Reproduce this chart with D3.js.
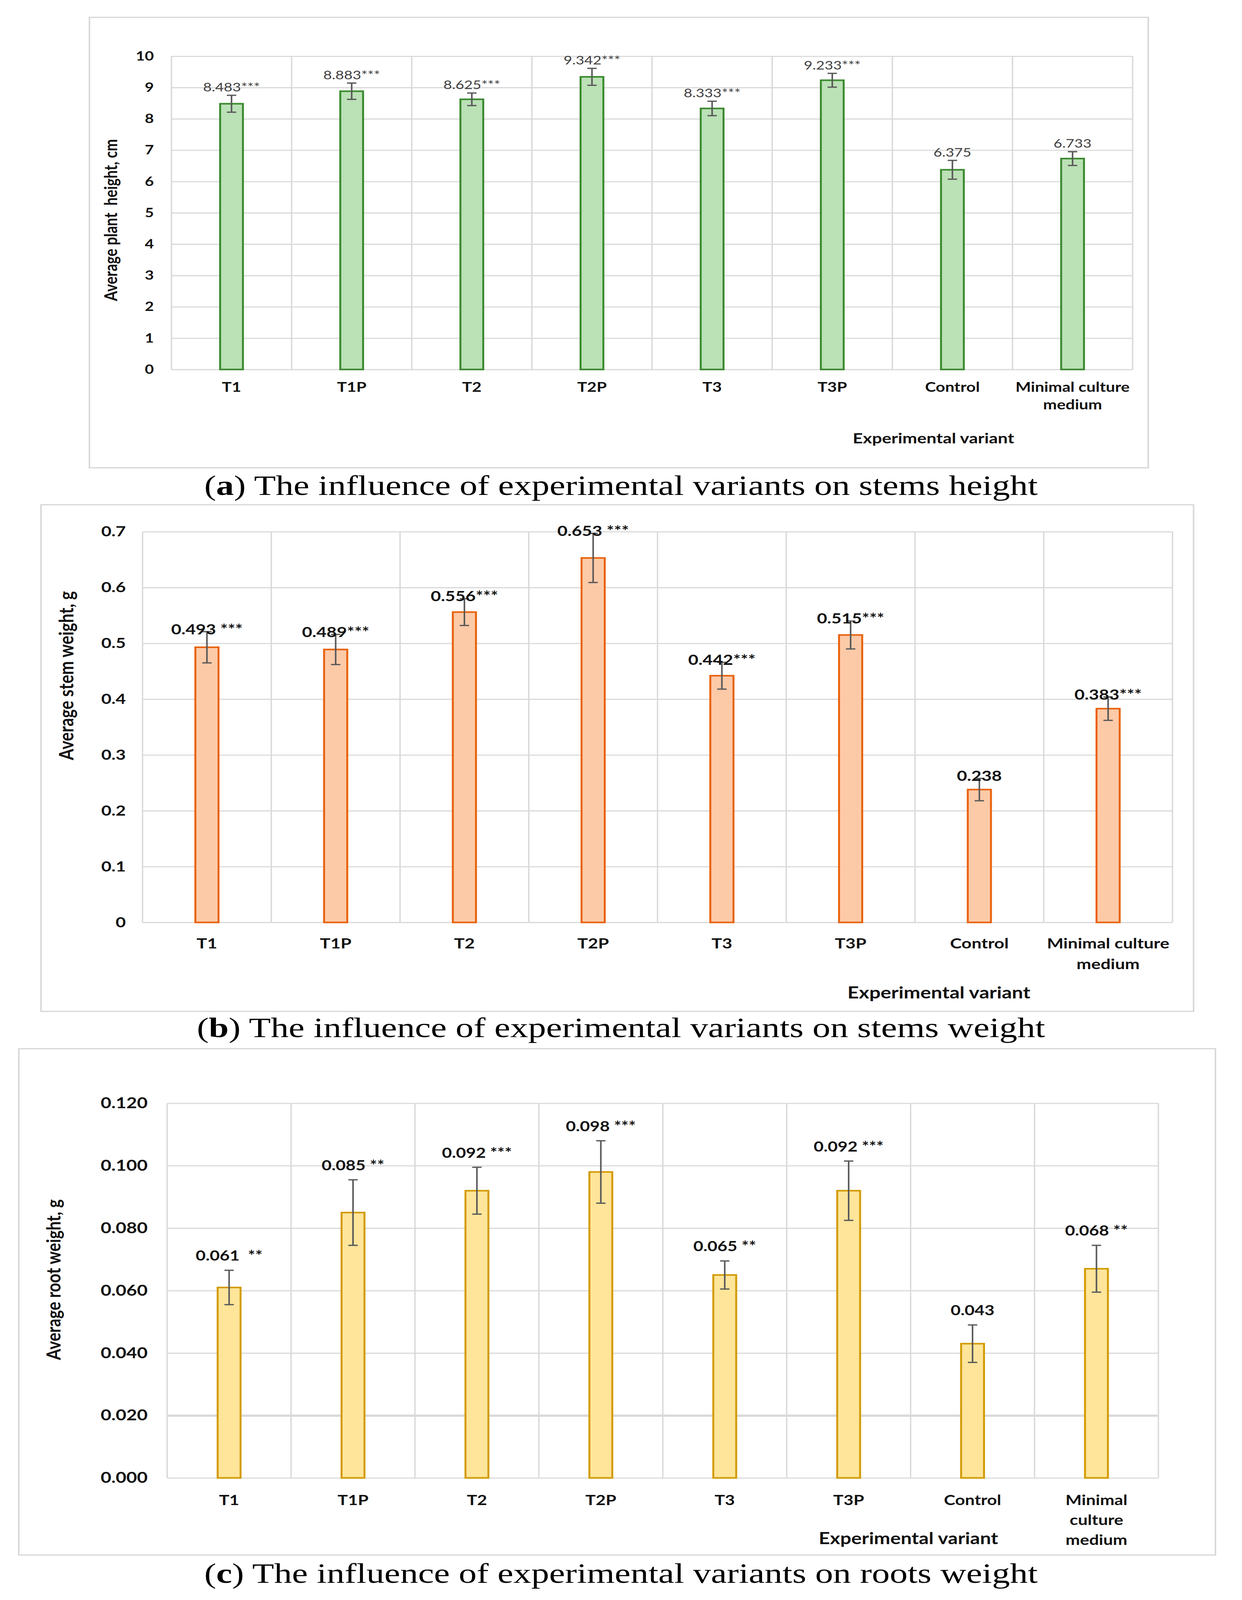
<!DOCTYPE html>
<head>
  <meta charset="utf-8">
  <script src="https://d3js.org/d3.v7.min.js"></script>
  <style>
    body { margin:0; background:#fff; overflow:hidden; }
    svg { display:block; width:100vw; height:100vh; }
    text { font-family: Lato, "Open Sans", sans-serif; }
  </style>
</head>
<body>
<script>
// categories shared by the three panels
var categories = ["T1", "T1P", "T2", "T2P", "T3", "T3P", "Control", "Minimal culture medium"];
var catLinesAB = [["T1"], ["T1P"], ["T2"], ["T2P"], ["T3"], ["T3P"], ["Control"], ["Minimal culture", "medium"]];
var catLinesC = [["T1"], ["T1P"], ["T2"], ["T2P"], ["T3"], ["T3P"], ["Control"], ["Minimal", "culture", "medium"]];

// (a) plant height, cm
var heightVals = [8.483, 8.883, 8.625, 9.342, 8.333, 9.233, 6.375, 6.733];
var heightErr = [0.27, 0.26, 0.2, 0.27, 0.23, 0.22, 0.3, 0.22];
var heightLabels = ["8.483***", "8.883***", "8.625***", "9.342***", "8.333***", "9.233***", "6.375", "6.733"];
var heightTicks = [0, 1, 2, 3, 4, 5, 6, 7, 8, 9, 10];

// (b) stem weight, g
var stemVals = [0.493, 0.489, 0.556, 0.653, 0.442, 0.515, 0.238, 0.383];
var stemErr = [0.028, 0.027, 0.024, 0.044, 0.024, 0.025, 0.02, 0.021];
var stemLabels = ["0.493 ***", "0.489***", "0.556***", "0.653 ***", "0.442***", "0.515***", "0.238", "0.383***"];
var stemTicks = [0, 0.1, 0.2, 0.3, 0.4, 0.5, 0.6, 0.7];

// (c) root weight, g
var rootVals = [0.061, 0.085, 0.092, 0.098, 0.065, 0.092, 0.043, 0.067];
var rootErr = [0.0055, 0.0105, 0.0075, 0.01, 0.0045, 0.0095, 0.006, 0.0075];
var rootLabels = ["0.061  **", "0.085 **", "0.092 ***", "0.098 ***", "0.065 **", "0.092 ***", "0.043", "0.068 **"];
var rootTicks = [0, 0.02, 0.04, 0.06, 0.08, 0.1, 0.12];

// drawn in a 3180x4980 frame, stretched to whatever the window really is
var W = 3180, H = 4980;
var svg = d3.select("body").append("svg")
  .attr("viewBox", "0 0 " + W + " " + H)
  .attr("preserveAspectRatio", "none");
svg.append("rect").attr("width", W).attr("height", H).attr("fill", "#fff");

function drawPanel(p) {
  var g = svg.append("g");

  // outer frame
  g.append("rect")
    .attr("x", p.box[0]).attr("y", p.box[1])
    .attr("width", p.box[2] - p.box[0]).attr("height", p.box[3] - p.box[1])
    .attr("fill", "none").attr("stroke", "#d9d9d9").attr("stroke-width", 4);

  var x = d3.scaleBand().domain(categories).range([p.left, p.right]);
  var y = d3.scaleLinear().domain(p.domain).range([p.bottom, p.top]);

  // horizontal grid
  g.append("g").attr("transform", "translate(" + p.left + ",0)")
    .call(d3.axisLeft(y).tickValues(p.ticks).tickSize(-(p.right - p.left)).tickFormat(""))
    .call(function(a) {
      a.select(".domain").remove();
      a.selectAll("text").remove();
      a.selectAll("line").attr("stroke", "#d9d9d9").attr("stroke-width", 3.5);
      if (p.thickTick != null) {
        a.selectAll(".tick").filter(function(d) { return Math.abs(d - p.thickTick) < 1e-9; })
          .select("line").attr("stroke-width", 7);
      }
    });

  // vertical grid at category edges
  var edges = categories.map(function(c) { return x(c); }).concat([p.right]);
  g.selectAll(".vgrid").data(edges).enter().append("line")
    .attr("x1", function(d) { return d; }).attr("x2", function(d) { return d; })
    .attr("y1", p.top).attr("y2", p.bottom)
    .attr("stroke", "#d9d9d9").attr("stroke-width", 3.5);

  // tick labels
  g.append("g").attr("transform", "translate(" + p.tickRight + ",0)")
    .call(d3.axisLeft(y).tickValues(p.ticks).tickSize(0).tickPadding(0).tickFormat(p.fmt))
    .call(function(a) {
      a.select(".domain").remove();
      a.selectAll("text").attr("font-size", p.tickSize).attr("font-weight", "bold")
        .attr("fill", "#111").attr("font-family", "Lato, sans-serif");
    });

  var bw = x.bandwidth() * p.barFrac;

  // bars
  g.selectAll(".bar").data(p.vals).enter().append("rect")
    .attr("x", function(d, i) { return x(categories[i]) + x.bandwidth() / 2 - bw / 2; })
    .attr("y", function(d) { return y(d); })
    .attr("width", bw)
    .attr("height", function(d) { return y(0) - y(d); })
    .attr("fill", p.fill).attr("stroke", p.stroke).attr("stroke-width", 5);

  // error bars
  var eg = g.selectAll(".err").data(p.vals).enter().append("g")
    .attr("stroke", "#595959").attr("stroke-width", 4);
  eg.append("line")
    .attr("x1", function(d, i) { return x(categories[i]) + x.bandwidth() / 2; })
    .attr("x2", function(d, i) { return x(categories[i]) + x.bandwidth() / 2; })
    .attr("y1", function(d, i) { return y(d - p.err[i]); })
    .attr("y2", function(d, i) { return y(d + p.err[i]); });
  [-1, 1].forEach(function(s) {
    eg.append("line")
      .attr("x1", function(d, i) { return x(categories[i]) + x.bandwidth() / 2 - 12; })
      .attr("x2", function(d, i) { return x(categories[i]) + x.bandwidth() / 2 + 12; })
      .attr("y1", function(d, i) { return y(d + s * p.err[i]); })
      .attr("y2", function(d, i) { return y(d + s * p.err[i]); });
  });

  // value labels
  g.selectAll(".vlab").data(p.vals).enter().append("text")
    .attr("x", function(d, i) { return x(categories[i]) + x.bandwidth() / 2; })
    .attr("y", function(d, i) { return y(d + p.err[i]) - p.labOff; })
    .attr("text-anchor", "middle")
    .attr("font-size", p.labSize).attr("font-weight", p.labWeight).attr("fill", p.labColor)
    .style("white-space", "pre")
    .text(function(d, i) { return p.labels[i]; });

  // category labels, one text per line
  p.catLines.forEach(function(lines, i) {
    lines.forEach(function(l, j) {
      g.append("text")
        .attr("x", x(categories[i]) + x.bandwidth() / 2)
        .attr("y", p.catY + j * p.catStep)
        .attr("text-anchor", "middle")
        .attr("font-size", p.catSize).attr("font-weight", "bold").attr("fill", "#111")
        .text(l);
    });
  });

  // axis titles
  g.append("text")
    .attr("transform", "translate(" + p.yTitle[0] + "," + p.yTitle[1] + ") rotate(-90)")
    .attr("text-anchor", "middle").attr("font-size", p.titleSize).attr("font-weight", "bold")
    .attr("fill", "#111")
    .style("white-space", "pre")
    .text(p.yTitleText);
  g.append("text")
    .attr("x", p.xTitle[0]).attr("y", p.xTitle[1])
    .attr("text-anchor", "middle").attr("font-size", p.titleSize).attr("font-weight", "bold")
    .attr("fill", "#111")
    .text("Experimental variant");

  // caption
  var cap = svg.append("text")
    .attr("x", 1590).attr("y", p.capY)
    .attr("text-anchor", "middle")
    .attr("font-size", 88).attr("fill", "#000")
    .attr("textLength", p.capLen).attr("lengthAdjust", "spacingAndGlyphs")
    .style("font-family", "'Liberation Serif', 'DejaVu Serif', serif");
  cap.append("tspan").text("(");
  cap.append("tspan").attr("font-weight", "bold").text(p.capLetter);
  cap.append("tspan").text(") " + p.capText);
}

drawPanel({
  box: [229, 54, 2940, 1456],
  left: 439, right: 2900, top: 175, bottom: 1150,
  domain: [0, 10], ticks: heightTicks, fmt: d3.format("d"),
  tickRight: 394, tickSize: 40,
  vals: heightVals, err: heightErr, labels: heightLabels,
  barFrac: 0.19, fill: "#bbe1b6", stroke: "#3b8a2f",
  labOff: 12, labSize: 38, labWeight: "normal", labColor: "#404040",
  catLines: catLinesAB, catY: 1220, catStep: 54, catSize: 42,
  yTitle: [300, 685], yTitleText: "Average plant  height, cm",
  xTitle: [2390, 1380], titleSize: 45,
  capY: 1540, capLen: 2134, capLetter: "a", capText: "The influence of experimental variants on stems height"
});

drawPanel({
  box: [105, 1571, 3056, 3148],
  left: 365, right: 3002, top: 1655, bottom: 2871,
  domain: [0, 0.7], ticks: stemTicks, fmt: function(d) { return d === 0 ? "0" : d3.format(".1f")(d); },
  tickRight: 322, tickSize: 45,
  vals: stemVals, err: stemErr, labels: stemLabels,
  barFrac: 0.18, fill: "#fdcaa8", stroke: "#e8630f",
  labOff: -8, labSize: 45, labWeight: "bold", labColor: "#111",
  catLines: catLinesAB, catY: 2952, catStep: 64, catSize: 45,
  yTitle: [188, 2103], yTitleText: "Average stem weight, g",
  xTitle: [2404, 3108], titleSize: 51,
  capY: 3228, capLen: 2172, capLetter: "b", capText: "The influence of experimental variants on stems weight"
});

drawPanel({
  box: [48, 3264, 3112, 4840],
  left: 428, right: 2966, top: 3434, bottom: 4600,
  domain: [0, 0.12], ticks: rootTicks, fmt: d3.format(".3f"), thickTick: 0.02,
  tickRight: 378, tickSize: 47,
  vals: rootVals, err: rootErr, labels: rootLabels,
  barFrac: 0.185, fill: "#fee59a", stroke: "#d39b05",
  labOff: 30, labSize: 44, labWeight: "bold", labColor: "#111",
  catLines: catLinesC, catY: 4685, catStep: 62, catSize: 44,
  yTitle: [155, 3983], yTitleText: "Average root weight, g",
  xTitle: [2326, 4806], titleSize: 50,
  capY: 4926, capLen: 2134, capLetter: "c", capText: "The influence of experimental variants on roots weight"
});
</script>
</body>
